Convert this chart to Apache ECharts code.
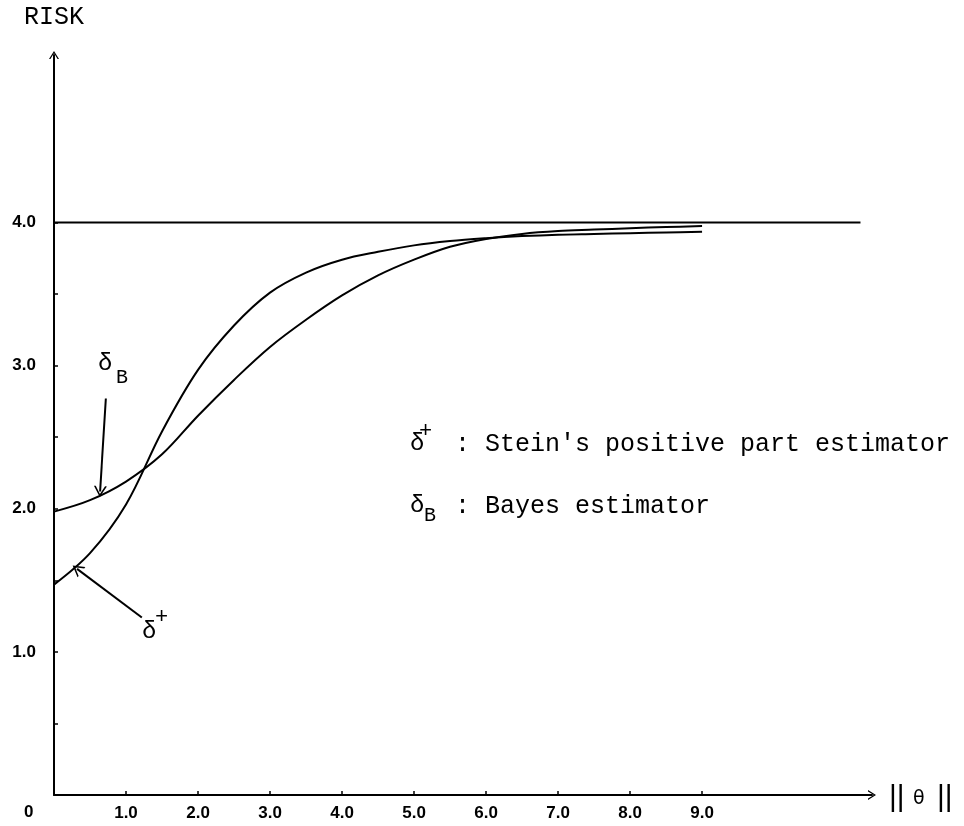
<!DOCTYPE html>
<html>
<head>
<meta charset="utf-8">
<script src="https://cdn.jsdelivr.net/npm/echarts@6/dist/echarts.min.js"></script>
<style>
  html, body { margin: 0; padding: 0; background: #fff; }
  #main { width: 964px; height: 826px; }
</style>
</head>
<body>
<div id="main"></div>
<script>
// values
var theta      = [0, 0.5, 1.0, 1.5, 2.0, 2.5, 3.0, 3.5, 4.0, 4.5, 5.0, 5.5, 6.0, 6.5, 7.0, 7.5, 8.0, 8.5, 9.0];
var riskStein  = [1.47, 1.69, 2.03, 2.54, 2.97, 3.28, 3.51, 3.65, 3.74, 3.795, 3.84, 3.87, 3.89, 3.905, 3.915, 3.92, 3.925, 3.93, 3.935];
var riskBayes  = [1.98, 2.06, 2.19, 2.38, 2.65, 2.90, 3.13, 3.32, 3.49, 3.63, 3.74, 3.83, 3.885, 3.92, 3.94, 3.95, 3.96, 3.968, 3.975];
var mleTheta   = [0, 11.2];
var mleRisk    = [4.0, 4.0];
var xTicks     = [1, 2, 3, 4, 5, 6, 7, 8, 9];
var yLabels    = [1, 2, 3, 4];
var yTicks     = [0.5, 1, 1.5, 2, 2.5, 3, 3.5, 4];
// annotation arrows: [from, to] in data units
var arrowBayes = [[0.72, 2.77], [0.64, 2.12]];
var arrowStein = [[1.22, 1.24], [0.32, 1.58]];

var chevron = 'path://M5,0 L10,8 L8.6,8 L5,2.2 L1.4,8 L0,8 Z';
var numFont = 'Liberation Sans';
var typeFont = 'Liberation Mono';

function pairs(xs, ys) {
  return xs.map(function (x, i) { return [x, ys[i]]; });
}

var chart = echarts.init(document.getElementById('main'), null, { renderer: 'canvas' });

var option = {
  animation: false,
  backgroundColor: '#fff',
  grid: { left: 54, right: 92, top: 55, bottom: 31, outerBoundsMode: 'none' },
  xAxis: {
    type: 'value',
    min: 0,
    max: 11.36,
    splitLine: { show: false },
    axisLine: {
      show: true,
      symbol: ['none', chevron],
      symbolSize: [12, 8],
      lineStyle: { color: '#000', width: 2 }
    },
    axisTick: { show: true, inside: true, length: 4, customValues: xTicks, lineStyle: { color: '#000', width: 1.5 } },
    axisLabel: {
      customValues: xTicks,
      margin: 10,
      color: '#000',
      fontFamily: numFont,
      fontWeight: 'bold',
      fontSize: 17,
      formatter: function (v) { return v.toFixed(1); }
    }
  },
  yAxis: {
    type: 'value',
    min: 0,
    max: 5.17,
    name: 'RISK',
    nameLocation: 'end',
    nameGap: 25,
    nameTextStyle: { color: '#000', fontFamily: typeFont, fontSize: 25, align: 'center' },
    splitLine: { show: false },
    axisLine: {
      show: true,
      symbol: ['none', chevron],
      symbolSize: [12, 8],
      lineStyle: { color: '#000', width: 2 }
    },
    axisTick: { show: true, inside: true, length: 4, customValues: yTicks, lineStyle: { color: '#000', width: 1.5 } },
    axisLabel: {
      customValues: yLabels,
      margin: 18,
      color: '#000',
      fontFamily: numFont,
      fontWeight: 'bold',
      fontSize: 17,
      formatter: function (v) { return v.toFixed(1); }
    }
  },
  series: [
    {
      name: 'MLE',
      type: 'line',
      data: pairs(mleTheta, mleRisk),
      showSymbol: false,
      lineStyle: { color: '#000', width: 2 },
      silent: true,
      markLine: {
        silent: true,
        symbol: ['none', chevron],
        symbolSize: [13, 11],
        label: { show: false },
        lineStyle: { color: '#000', width: 2, type: 'solid' },
        data: [
          [{ coord: arrowBayes[0] }, { coord: arrowBayes[1] }],
          [{ coord: arrowStein[0] }, { coord: arrowStein[1] }]
        ]
      }
    },
    {
      name: 'Stein positive part',
      type: 'line',
      data: pairs(theta, riskStein),
      smooth: 0.35,
      showSymbol: false,
      lineStyle: { color: '#000', width: 2 },
      silent: true
    },
    {
      name: 'Bayes',
      type: 'line',
      data: pairs(theta, riskBayes),
      smooth: 0.35,
      showSymbol: false,
      lineStyle: { color: '#000', width: 2 },
      silent: true
    }
  ],
  graphic: [
    // origin label
    { type: 'text', left: 24, top: 804, style: { text: '0', font: 'bold 17px ' + numFont, fill: '#000' } },
    // || theta ||
    { type: 'text', left: 889, top: 783, style: { text: '||', font: '30px ' + numFont, fill: '#000' } },
    { type: 'text', left: 913, top: 790, style: { text: '\u03b8', font: '19px DejaVu Sans', fill: '#000' } },
    { type: 'text', left: 937, top: 783, style: { text: '||', font: '30px ' + numFont, fill: '#000' } },
    // curve annotations
    { type: 'text', left: 98, top: 352, style: { text: '\u03b4', font: '24px ' + typeFont, fill: '#000' } },
    { type: 'text', left: 116, top: 368, style: { text: 'B', font: '20px ' + typeFont, fill: '#000' } },
    { type: 'text', left: 142, top: 620, style: { text: '\u03b4', font: '24px ' + typeFont, fill: '#000' } },
    { type: 'text', left: 155, top: 606, style: { text: '+', font: '22px ' + typeFont, fill: '#000' } },
    // key
    { type: 'text', left: 410, top: 432, style: { text: '\u03b4', font: '24px ' + typeFont, fill: '#000' } },
    { type: 'text', left: 419, top: 420, style: { text: '+', font: '22px ' + typeFont, fill: '#000' } },
    { type: 'text', left: 455, top: 432, style: { text: ": Stein's positive part estimator", font: '25px ' + typeFont, fill: '#000' } },
    { type: 'text', left: 410, top: 494, style: { text: '\u03b4', font: '24px ' + typeFont, fill: '#000' } },
    { type: 'text', left: 424, top: 506, style: { text: 'B', font: '20px ' + typeFont, fill: '#000' } },
    { type: 'text', left: 455, top: 494, style: { text: ': Bayes estimator', font: '25px ' + typeFont, fill: '#000' } }
  ]
};

chart.setOption(option);
</script>
</body>
</html>
